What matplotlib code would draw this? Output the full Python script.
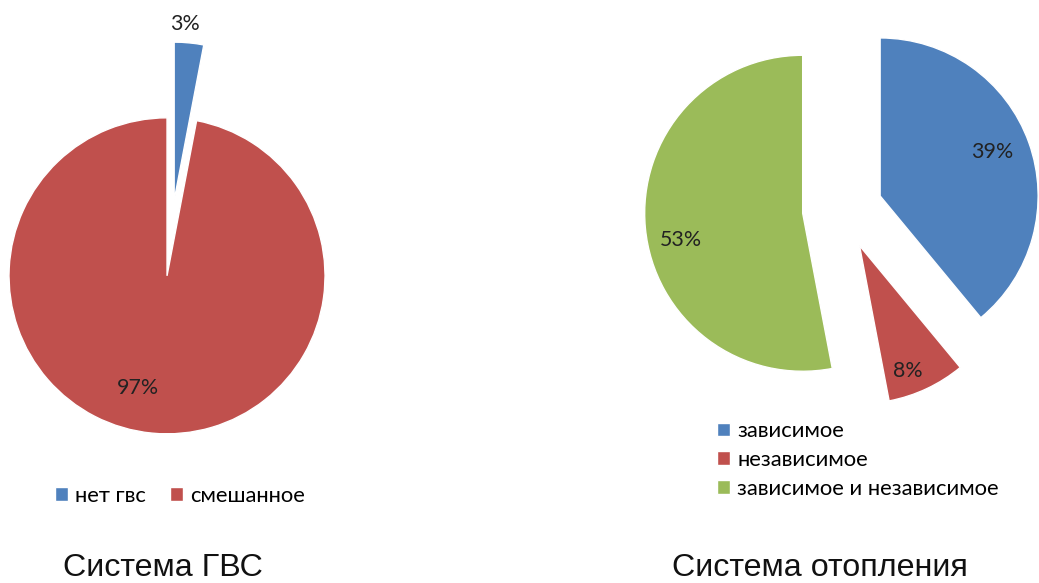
import math
import matplotlib.pyplot as plt

plt.rcParams['font.family'] = ['Lato', 'DejaVu Sans']

# data
gvs_labels = ['нет гвс', 'смешанное']
gvs_values = [3, 97]
heat_labels = ['зависимое', 'независимое', 'зависимое и независимое']
heat_values = [39, 8, 53]
colors = ['#4F81BD', '#C0504D', '#9BBB59']
titles = ['Система ГВС', 'Система отопления']

W, H = 1039, 583
fig = plt.figure(figsize=(W / 100, H / 100), dpi=100)
ax = fig.add_axes([0, 0, 1, 1])

R = 158


def draw_pie(values, center, explode, label_dist, label_rot):
    wedges, _, autotexts = ax.pie(
        values, colors=colors[:len(values)], center=center, radius=R,
        startangle=90, counterclock=False,
        explode=[explode] * len(values), autopct='%1.0f%%',
        wedgeprops=dict(edgecolor='white', linewidth=1),
        textprops=dict(fontsize=15.4, color='#222222'))
    # label placement similar to the Excel "best fit"
    for w, t, d, r in zip(wedges, autotexts, label_dist, label_rot):
        th = math.radians((w.theta1 + w.theta2) / 2 + r)
        cx, cy = w.center
        t.set_position((cx + d * R * math.cos(th), cy + d * R * math.sin(th)))
    return wedges


w1 = draw_pie(gvs_values, (170.6, H - 238), 38, [1.12, 0.73], [2, -9])
w2 = draw_pie(heat_values, (842.5, H - 209.5), 40, [0.76, 0.85, 0.79], [1.5, -4, 7])

ax.set_xlim(0, W)
ax.set_ylim(0, H)
ax.set_aspect('equal')
ax.axis('off')

leg_kw = dict(frameon=False, borderpad=0, borderaxespad=0, handlelength=0.57,
              handleheight=0.57, handletextpad=0.35, fontsize=15.8)
fig.legend(w1, gvs_labels, loc='center left', ncol=2, columnspacing=1.1,
           bbox_to_anchor=(55 / W, 1 - 496 / H), **leg_kw)
fig.legend(w2, heat_labels, loc='center left', labelspacing=0.39,
           bbox_to_anchor=(717 / W, 1 - 460 / H), **leg_kw)

for x, t in zip([163, 820], titles):
    fig.text(x / W, 1 - 576 / H, t, ha='center', va='baseline',
             fontsize=23.2, family='Liberation Sans', color='#111111')

fig.savefig('out.png', dpi=100)
